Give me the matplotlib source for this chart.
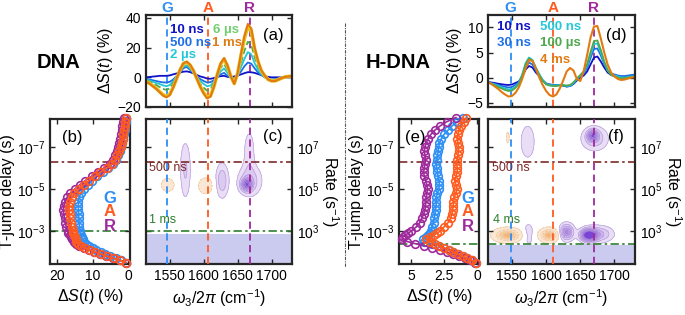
import numpy as np
import matplotlib
matplotlib.use('Agg')
import matplotlib.pyplot as plt
from matplotlib.ticker import FixedLocator, NullLocator, FuncFormatter, NullFormatter
from matplotlib.lines import Line2D

plt.rcParams['font.family'] = ['Liberation Sans', 'DejaVu Sans']
plt.rcParams['mathtext.fontset'] = 'custom'
plt.rcParams['mathtext.rm'] = 'Liberation Sans'
plt.rcParams['mathtext.it'] = 'Liberation Sans:italic'
plt.rcParams['mathtext.bf'] = 'Liberation Sans:bold'
plt.rcParams['font.size'] = 10

W, H = 685, 315

# ---------------- data ----------------
# wavenumber grid of the difference spectra (a), (d)
wn = [1515, 1520, 1525, 1530, 1535, 1540, 1545, 1550, 1555, 1560, 1565, 1570, 1575, 1580, 1585,
      1590, 1595, 1600, 1605, 1610, 1615, 1620, 1625, 1630, 1635, 1640, 1645, 1650, 1655, 1660,
      1665, 1670, 1675, 1680, 1685, 1690, 1695, 1700, 1705, 1710, 1715, 1720, 1725, 1730]

# (a) DNA
dna_10ns = [0, 0.2, 0.5, 0.7, 1, 1, 1, 1.3, 2, 2.6, 3.2, 3.8, 4, 3.5, 2.6, 1.5, 0.6, 0, -0.8, -1,
            -0.5, 0.3, 0.8, 1, 0.3, 0.2, 0.6, 1.2, 2, 2.8, 3.5, 3.4, 3, 2.2, 1.5, 0.8, 0.3, 0, 0,
            0, 0, 0, 0, 0]
dna_500ns = [-1, -1.4, -2, -2.5, -3, -3.4, -3.5, -3, -1.5, 0.8, 3, 6.2, 7, 5, 2.8, 0.5, -1.2, -2.5,
             -3.5, -3.2, -2, 0, 2, 3, 1, -0.3, -0.6, 1, 4, 7.5, 10, 9.2, 6, 3.3, 1.5, 0, -1, -1.5,
             -1.2, -0.8, -0.4, 0, 0.1, 0.2]
dna_2us = [-1.5, -2.1, -3, -3.8, -4.5, -5.4, -6, -5.2, -2.8, 0.5, 4, 7.5, 8, 6, 3, 0, -2.5, -4.5,
           -6, -5.5, -3, 0.8, 4, 6, 3, 0, -1.2, 1.5, 7, 12.5, 17, 15.5, 9.5, 5, 2, 0, -1.2, -1.8,
           -1.6, -1, -0.4, 0.1, 0.3, 0.3]
dna_6us = [-2, -2.8, -4, -5.2, -6.5, -7.8, -8.5, -7.5, -4, 0, 4.5, 8.3, 9, 7, 3.5, -1, -4.5, -7,
           -9, -8.2, -4, 1.5, 6.5, 9, 5, 0, -2.5, 2, 10, 18, 24, 22, 13.5, 7.5, 3, 0.3, -1.5, -2.2,
           -2, -1.2, -0.5, 0.2, 0.4, 0.5]
dna_ms_y = [-2.8, -4, -5.7, -7.4, -9.6, -11.7, -12.8, -11.4, -6.7, -1, 4.8, 9.2, 10.2, 8.2, 4.3, -1,
            -6.2, -10.4, -13.5, -12.4, -6.2, 1.9, 9, 12.3, 7.6, 0.5, -4.2, 2.8, 15, 26.5, 34, 31.3,
            19, 10.4, 4.3, 1, -1.5, -2.4, -2.4, -1.5, -0.5, 0.3, 0.6, 0.8]
dna_1ms = [-3, -4.2, -6, -7.8, -10, -12.3, -13.5, -12, -7, -1, 5, 9.5, 10.5, 8.5, 4.5, -1, -6.5,
           -11, -14.2, -13, -6.5, 2, 9.5, 13, 8, 0.5, -4.4, 3, 16, 28, 36, 33, 20, 11, 4.5, 1, -1.5,
           -2.5, -2.5, -1.5, -0.5, 0.3, 0.6, 0.8]

# (d) H-DNA
hdna_10ns = [-0.9, -1.0, -1.1, -1.25, -1.35, -1.45, -1.5, -1.4, -1.1, -0.8, 0.2, 1.6, 2.3, 2.0, 1.0,
             0.3, -0.6, -1.2, -1.4, -1.5, -1.5, -1.5, -1.6, -1.8, -1.7, -1.3, -0.6, 0, 0.4, 1.2,
             2.6, 4.0, 4.2, 3.2, 2.0, 1.0, 0.5, 0.3, 0.1, 0, 0.1, 0.2, 0.4, 0.5]
hdna_30ns = [-0.9, -1.1, -1.3, -1.5, -1.7, -1.85, -2.0, -1.9, -1.5, -1.0, 0.3, 2.1, 3.0, 2.6, 1.4,
             0.4, -0.6, -1.2, -1.4, -1.5, -1.5, -1.5, -1.6, -1.8, -1.7, -1.2, -0.4, 0.3, 0.8, 1.9,
             3.9, 5.7, 5.8, 4.4, 2.7, 1.4, 0.8, 0.6, 0.4, 0.3, 0.3, 0.4, 0.5, 0.6]
hdna_500ns = [-0.9, -1.2, -1.4, -1.7, -2.0, -2.2, -2.4, -2.3, -1.9, -1.1, 0.6, 2.9, 4.0, 3.5, 2.0,
              0.7, -0.5, -1.3, -1.5, -1.6, -1.6, -1.5, -1.5, -1.7, -1.6, -1.1, -0.3, 0.4, 1.0, 2.4,
              4.6, 6.7, 6.8, 5.0, 3.0, 1.4, 0.6, 0.4, 0.2, 0, 0, 0.1, 0.2, 0.3]
hdna_100us = [-0.9, -1.3, -1.6, -1.9, -2.2, -2.5, -2.7, -2.6, -2.1, -1.3, 0.4, 2.6, 3.8, 3.4, 1.8,
              0.5, -0.6, -1.4, -1.6, -1.7, -1.7, -1.6, -1.6, -1.6, -1.5, -1.0, -0.2, 0.5, 1.2, 2.7,
              5.1, 7.3, 7.4, 5.5, 3.2, 1.4, 0.5, 0.2, 0, -0.2, -0.1, 0, 0.1, 0.2]
hdna_4ms = [-0.9, -1.3, -1.8, -2.3, -2.9, -3.4, -3.8, -3.7, -3.1, -2.0, -0.3, 1.8, 3.5, 3.3, 1.8,
            0, -1.5, -2.7, -3.5, -3.8, -3.4, -2.2, -0.6, 1.2, 1.9, 1.4, -0.3, -0.7, 1.3, 4.5, 8.0,
            10.2, 10.3, 7.8, 5.0, 2.6, 1.0, 0.2, -0.3, -0.5, -0.4, -0.2, 0, 0.1]

# (b),(e) kinetics: log10 of T-jump delay
log_delay = [-8.4, -8.2, -8.0, -7.8, -7.6, -7.4, -7.2, -7.0, -6.8, -6.6, -6.4, -6.2, -6.0, -5.8,
             -5.6, -5.4, -5.2, -5.0, -4.8, -4.6, -4.4, -4.2, -4.0, -3.8, -3.6, -3.4, -3.2, -3.0,
             -2.9, -2.8, -2.7, -2.6, -2.5, -2.4, -2.3, -2.2, -2.1, -2.0, -1.9, -1.8, -1.7, -1.6, -1.5]
dna_G = [0.5, 0.7, 0.9, 1.0, 1.2, 1.4, 1.7, 2.0, 2.4, 2.9, 3.5, 4.3, 5.6, 7.2, 8.7, 10.1, 11.4, 12.5,
         13.3, 13.8, 14.0, 14.0, 14.0, 13.9, 13.9, 13.8, 13.7, 13.6, 13.5, 13.3, 13.1, 12.8, 12.4,
         11.8, 11.0, 10.0, 8.9, 7.7, 6.4, 5.0, 3.5, 2.0, 0.5]
dna_A = [0.7, 0.9, 1.0, 1.2, 1.3, 1.5, 1.8, 2.1, 2.5, 3.0, 3.6, 4.5, 6.0, 7.8, 9.4, 11.0, 12.5, 13.9,
         15.1, 15.9, 16.4, 16.6, 16.6, 16.5, 16.4, 16.2, 15.9, 15.6, 15.4, 15.2, 15.0, 14.8, 14.6,
         14.2, 13.4, 12.1, 10.7, 9.2, 7.6, 5.9, 4.1, 2.3, 0.6]
dna_R = [1.2, 1.4, 1.6, 1.8, 2.0, 2.2, 2.5, 2.8, 3.2, 3.7, 4.3, 5.2, 6.8, 8.6, 10.3, 12.0, 13.6, 15.0,
         16.3, 17.2, 17.8, 18.1, 18.2, 18.1, 17.9, 17.7, 17.4, 17.0, 16.8, 16.5, 16.2, 15.8, 15.3,
         14.6, 13.7, 12.5, 11.1, 9.6, 7.9, 6.1, 4.2, 2.3, 0.6]
hdna_G = [1.1, 1.5, 1.9, 2.2, 2.5, 2.7, 2.85, 2.9, 2.95, 3.0, 3.05, 3.1, 3.05, 3.0, 2.95, 2.9, 2.85,
          2.9, 3.0, 3.1, 3.1, 3.1, 3.15, 3.2, 3.25, 3.3, 3.4, 3.5, 3.6, 3.75, 3.9, 4.1, 4.0, 3.4,
          2.9, 2.5, 2.15, 1.8, 1.45, 1.1, 0.75, 0.4, 0.1]
hdna_A = [0.8, 1.0, 1.2, 1.35, 1.45, 1.5, 1.45, 1.4, 1.4, 1.45, 1.5, 1.55, 1.5, 1.5, 1.6, 1.7, 1.6,
          1.5, 1.6, 1.75, 1.8, 1.8, 1.85, 1.9, 2.0, 2.2, 2.5, 2.8, 3.0, 3.3, 3.6, 3.9, 3.55, 3.2,
          2.85, 2.5, 2.15, 1.8, 1.45, 1.1, 0.75, 0.4, 0.1]
hdna_R = [1.6, 2.3, 2.8, 3.2, 3.5, 3.7, 3.85, 3.95, 4.0, 3.95, 3.9, 3.95, 4.0, 4.05, 4.0, 3.9, 3.8,
          3.75, 3.8, 3.85, 3.9, 3.9, 3.95, 4.05, 4.2, 4.35, 4.6, 5.0, 5.2, 5.45, 5.65, 5.7, 5.3, 4.7,
          4.0, 3.4, 2.8, 2.3, 1.8, 1.35, 0.9, 0.5, 0.15]

# (c),(f) lifetime maps: peaks (wavenumber, log10 delay, width_wn, width_log, amplitude)
peaks_c = [(1547, -5.19, 8, 0.26, -0.2),
           (1573, -5.9, 5.5, 0.95, 0.24),
           (1603, -5.15, 8.5, 0.3, -0.22),
           (1627, -5.4, 6.5, 0.55, 0.32),
           (1668, -5.4, 12, 0.5, 0.3),
           (1663, -5.2, 5.5, 0.2, 0.6),
           (1667, -6.8, 6, 0.75, 0.18)]
peaks_f = [(1544, -7.44, 2.5, 0.3, -0.14),
           (1573, -7.25, 8, 0.62, 0.2),
           (1671, -7.4, 13, 0.38, 0.33),
           (1668, -7.55, 5, 0.17, 0.6),
           (1544, -2.8, 13, 0.2, -0.7),
           (1574, -2.85, 7.5, 0.45, 0.17),
           (1604, -2.8, 9, 0.2, -0.7),
           (1630, -2.95, 7, 0.26, 0.6),
           (1662, -2.8, 7.5, 0.19, 1.1),
           (1677, -2.85, 14, 0.26, 0.38)]

marker_dna = {'G': 1546, 'A': 1607, 'R': 1668}
marker_hdna = {'G': 1548, 'A': 1610, 'R': 1670}

# ---------------- colours ----------------
C_G, C_A, C_R = '#2e8ff5', '#ff5b1f', '#9e2a9c'
c_dark, c_blue, c_cyan = '#1111c8', '#1d6ee8', '#22c8d8'
c_green, c_lgreen, c_yellow, c_orange = '#4ea84e', '#6fcf6f', '#e8c41e', '#e27a12'
c_500, c_ms = '#7f2a2a', '#2f7f2f'
c_shade = '#cbcbef'
purples = ['#e9def6', '#dccbf1', '#cbb2ec', '#b796e5', '#a27ade', '#8f5dd9', '#7c44d4']
peaches = ['#f3b57a', '#f7cb9e', '#f9dcbc', '#fbe8d4']
pos_levels = [0.1, 0.22, 0.34, 0.46, 0.58, 0.7, 0.82, 2]
neg_levels = [-2, -0.6, -0.45, -0.3, -0.1]

XLIM = (1515, 1730)
YLIM = (10 ** -1.43, 10 ** -8.33)

fig = plt.figure(figsize=(W / 100, H / 100), dpi=100)


def px_axes(x0, y0, x1, y1):
    return fig.add_axes([x0 / W, 1 - y1 / H, (x1 - x0) / W, (y1 - y0) / H])


def ftext(x, y, s, **kw):
    fig.text(x / W, 1 - y / H, s, **kw)


def style(ax):
    for s in ax.spines.values():
        s.set_linewidth(1.6)
        s.set_color('#262626')
    ax.tick_params(direction='in', top=True, right=True, length=3.5, width=1,
                   colors='#262626', labelcolor='k', labelsize=10)


def delay_axis(ax):
    ax.set_yscale('log')
    ax.set_ylim(*YLIM)
    ax.yaxis.set_major_locator(FixedLocator([1e-7, 1e-5, 1e-3]))
    ax.yaxis.set_minor_locator(NullLocator())


def blob_field(peaks):
    wn_grid = np.linspace(XLIM[0], XLIM[1], 400)
    lt_grid = np.linspace(-8.4, -1.4, 400)
    WN, LT = np.meshgrid(wn_grid, lt_grid)
    Z = np.zeros_like(WN)
    for x0, l0, sx, sl, amp in peaks:
        Z += amp * np.exp(-0.5 * ((WN - x0) / sx) ** 2 - 0.5 * ((LT - l0) / sl) ** 2)
    return WN, 10 ** LT, Z


def spectra_panel(ax, series, markers, ylim, yticks, tag):
    style(ax)
    for k, col in zip('GAR', (C_G, C_A, C_R)):
        ax.axvline(markers[k], color=col, ls=(0, (4, 2.5)), lw=1.3, zorder=1)
        ax.text(markers[k], 1.035, k, transform=ax.get_xaxis_transform(), ha='center',
                va='baseline', color=col, fontsize=11, fontweight='bold')
    for vals, col, lw, ls in series:
        ax.plot(wn, vals, color=col, lw=lw, ls=ls, zorder=2)
    ax.set_xlim(*XLIM)
    ax.set_ylim(*ylim)
    ax.set_xticks([1550, 1600, 1650, 1700])
    ax.xaxis.set_major_formatter(NullFormatter())
    ax.set_yticks(yticks)
    ax.set_ylabel(r'$\Delta S(t)$ (%)', fontsize=11.5, labelpad=2)
    ax.text(0.875, 0.78, tag, transform=ax.transAxes, ha='center', va='center', fontsize=12)


def kinetics_panel(ax, curves, xlim, xticks, xticklabels, ms_line, tag, tag_x, gar_x):
    style(ax)
    delay_axis(ax)
    ax.axhline(5e-7, color=c_500, ls=(0, (5, 2, 1.5, 2)), lw=1.2, zorder=1)
    ax.axhline(ms_line, color=c_ms, ls=(0, (5, 2, 1.5, 2)), lw=1.2, zorder=1)
    t = [10 ** v for v in log_delay]
    for vals, col in curves:
        ax.plot(vals, t, '-o', color=col, mfc='none', ms=5.5, mew=1.2, lw=1.2,
                clip_on=False, zorder=3)
    ax.set_xlim(*xlim)
    ax.set_xticks(xticks)
    ax.set_xticklabels(xticklabels)
    ax.set_xlabel(r'$\Delta S(t)$ (%)', fontsize=11.5, labelpad=3)
    ax.set_ylabel('T-jump delay (s)', fontsize=11.5, labelpad=1)
    ax.text(tag_x, 0.87, tag, transform=ax.transAxes, ha='center', va='center', fontsize=12)
    for k, col, yy in zip('GAR', (C_G, C_A, C_R), (0.455, 0.36, 0.26)):
        ax.text(gar_x, yy, k, transform=ax.transAxes, ha='center', va='center', color=col,
                fontsize=12, fontweight='bold')


def map_panel(ax, peaks, markers, shade_from, ms_line, tag):
    style(ax)
    delay_axis(ax)
    X, Y, Z = blob_field(peaks)
    ax.contourf(X, Y, Z, levels=pos_levels, colors=purples, zorder=1)
    ax.contourf(X, Y, Z, levels=neg_levels, colors=peaches, zorder=1)
    ax.contour(X, Y, Z, levels=pos_levels[:-1], colors='#b49ada', linewidths=0.45, zorder=1)
    ax.contour(X, Y, Z, levels=neg_levels[1:], colors='#e9b98c', linewidths=0.45, zorder=1)
    ax.axhspan(shade_from, 1, color=c_shade, lw=0, zorder=0.5)
    ax.axhline(5e-7, color=c_500, ls=(0, (5, 2, 1.5, 2)), lw=1.2, zorder=2)
    ax.axhline(ms_line, color=c_ms, ls=(0, (5, 2, 1.5, 2)), lw=1.2, zorder=2)
    for k, col in zip('GAR', (C_G, C_A, C_R)):
        ax.axvline(markers[k], color=col, ls=(0, (4, 2.5)), lw=1.3, zorder=3)
    ax.set_xlim(*XLIM)
    ax.set_ylim(*YLIM)
    ax.set_xticks([1550, 1600, 1650, 1700])
    ax.tick_params(labelleft=False, labelright=True)
    ax.yaxis.set_major_formatter(FuncFormatter(lambda v, p: r'$10^{%d}$' % round(-np.log10(v))))
    ax.yaxis.set_label_position('right')
    ax.set_ylabel(r'Rate (s$^{-1}$)', fontsize=11.5, rotation=270, va='bottom', labelpad=0)
    ax.set_xlabel(r'$\omega_3/2\pi$ (cm$^{-1}$)', fontsize=11.5, labelpad=3)
    ax.text(0.87, 0.88, tag, transform=ax.transAxes, ha='center', va='center', fontsize=12)


# ---------------- DNA ----------------
ax_a = px_axes(146, 15, 292, 107)
spectra_panel(ax_a,
              [(dna_10ns, c_dark, 1.3, '-'), (dna_500ns, c_blue, 1.3, '-'),
               (dna_2us, c_cyan, 1.3, '-'), (dna_6us, c_green, 1.3, '--'),
               (dna_ms_y, c_yellow, 2.6, '-'), (dna_1ms, c_orange, 1.5, '-')],
              marker_dna, (-20, 42), [-20, 0, 20, 40], '(a)')

ax_b = px_axes(50, 119, 130, 264)
kinetics_panel(ax_b, [(dna_G, C_G), (dna_R, C_R), (dna_A, C_A)], (22, -0.55),
               [20, 10, 0], ['20', '10', '0'], 1e-3, '(b)', 0.28, 0.75)

ax_c = px_axes(146, 119, 292, 264)
map_panel(ax_c, peaks_c, marker_dna, 1.35e-3, 1e-3, '(c)')

# ---------------- H-DNA ----------------
ax_d = px_axes(488, 15, 635, 107)
spectra_panel(ax_d,
              [(hdna_10ns, c_dark, 1.3, '-'), (hdna_30ns, c_blue, 1.3, '-'),
               (hdna_500ns, c_cyan, 1.3, '-'), (hdna_100us, c_green, 1.3, '-'),
               (hdna_4ms, c_orange, 1.5, '-')],
              marker_hdna, (-5.9, 12.5), [-5, 0, 5, 10], '(d)')

ax_e = px_axes(399, 119, 479, 264)
kinetics_panel(ax_e, [(hdna_G, C_G), (hdna_R, C_R), (hdna_A, C_A)], (5.92, -0.15),
               [5, 2.5, 0], ['5', '2.5', '0'], 4e-3, '(e)', 0.2, 0.86)

ax_f = px_axes(488, 119, 635, 264)
map_panel(ax_f, peaks_f, marker_hdna, 4.6e-3, 4e-3, '(f)')

# ---------------- labels ----------------
tkw = dict(ha='left', va='center', fontsize=9.5, fontweight='bold')
ftext(170, 30, '10 ns', color=c_dark, **tkw)
ftext(170, 43.5, '500 ns', color=c_blue, **tkw)
ftext(170, 55, '2 µs', color=c_cyan, **tkw)
ftext(213, 30, '6 µs', color=c_lgreen, **tkw)
ftext(212, 43.5, '1 ms', color=c_orange, **tkw)

ftext(497, 27.5, '10 ns', color=c_dark, **tkw)
ftext(497, 43, '30 ns', color=c_blue, **tkw)
ftext(540, 27.5, '500 ns', color=c_cyan, **tkw)
ftext(540, 43, '100 µs', color=c_green, **tkw)
ftext(540, 60, '4 ms', color=c_orange, **tkw)

ftext(168, 168, '500 ns', color=c_500, ha='center', va='center', fontsize=9)
ftext(163, 220, '1 ms', color=c_ms, ha='center', va='center', fontsize=9)
ftext(511, 168, '500 ns', color=c_500, ha='center', va='center', fontsize=9)
ftext(507, 220, '4 ms', color=c_ms, ha='center', va='center', fontsize=9)

ftext(58, 62, 'DNA', ha='center', va='center', fontsize=14.5, fontweight='bold')
ftext(398, 62, 'H-DNA', ha='center', va='center', fontsize=14.5, fontweight='bold')

fig.add_artist(Line2D([345 / W, 345 / W], [1 - 23 / H, 1 - 267 / H], transform=fig.transFigure,
                      color='#555555', lw=0.8, ls=(0, (3, 1, 1, 1))))

fig.savefig('out.png', dpi=100)
